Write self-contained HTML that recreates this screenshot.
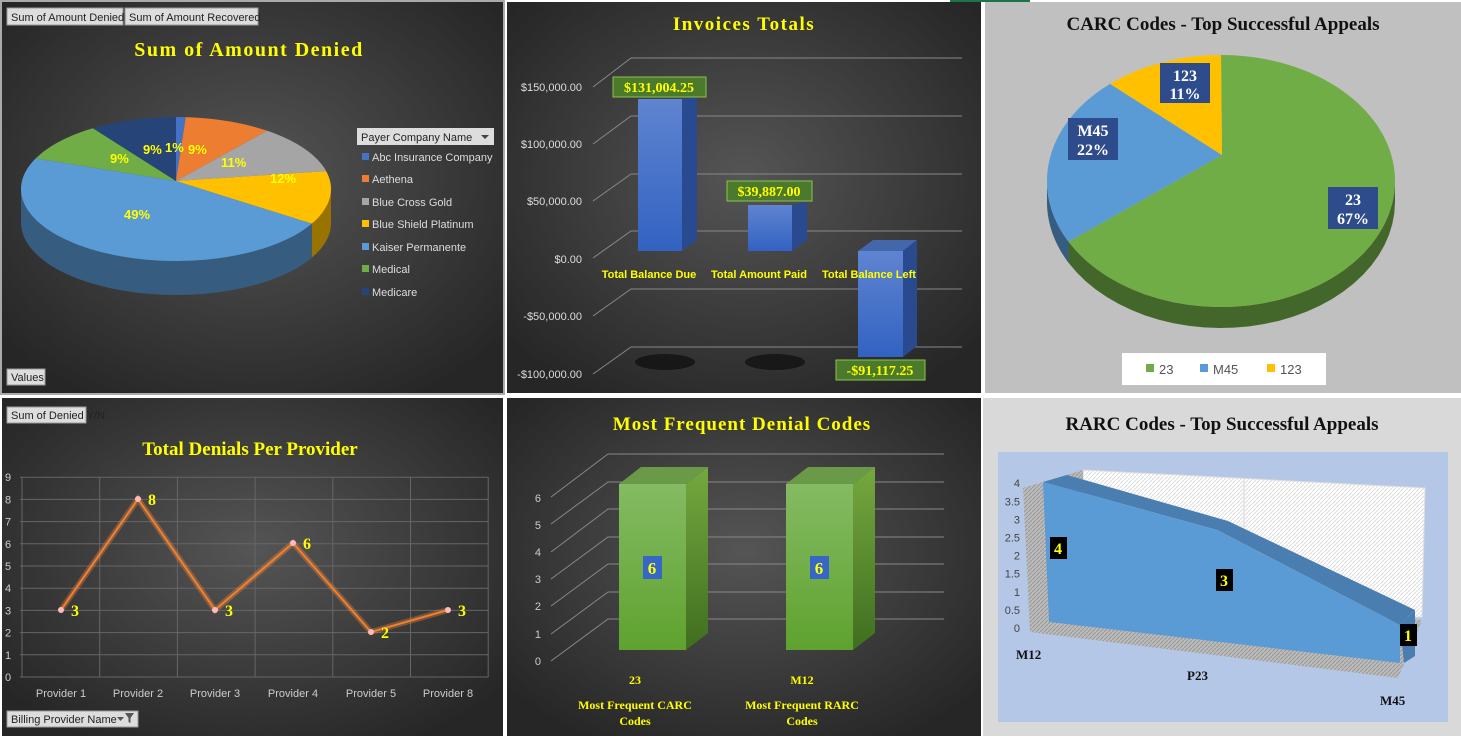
<!DOCTYPE html><html><head><meta charset="utf-8"><style>
body{margin:0;width:1461px;height:738px;overflow:hidden;background:#fff;font-family:"Liberation Sans",sans-serif}
.t{font-family:"Liberation Serif",serif;font-weight:bold;fill:#ffff00}
</style></head><body>
<svg id="s" width="1461" height="738" viewBox="0 0 1461 738" xmlns="http://www.w3.org/2000/svg" font-family="Liberation Sans, sans-serif">
<defs>
<radialGradient id="dk" cx="50%" cy="45%" r="65%"><stop offset="0" stop-color="#555"/><stop offset="1" stop-color="#262626"/></radialGradient>
<linearGradient id="bb" x1="0" y1="0" x2="0" y2="1"><stop offset="0" stop-color="#5f84d0"/><stop offset="1" stop-color="#3262c2"/></linearGradient>
<linearGradient id="gb" x1="0" y1="0" x2="0" y2="1"><stop offset="0" stop-color="#84bb63"/><stop offset="1" stop-color="#5fa22e"/></linearGradient>
<linearGradient id="lb" x1="0" y1="0" x2="0" y2="1"><stop offset="0" stop-color="#76a83f"/><stop offset="1" stop-color="#3f6e1f"/></linearGradient>
<pattern id="h" width="4" height="4" patternUnits="userSpaceOnUse"><rect width="4" height="4" fill="#fff"/><path d="M0 4L4 0" stroke="#ddd" stroke-width="1"/></pattern>
<pattern id="hg" width="4" height="4" patternUnits="userSpaceOnUse"><rect width="4" height="4" fill="#bbb"/><path d="M0 4L4 0" stroke="#999" stroke-width="1"/></pattern>
</defs>
<rect x="0" y="0" width="505" height="395" fill="#aaa"/>
<rect x="2" y="2" width="501" height="391" fill="url(#dk)"/>
<rect x="507" y="2" width="474" height="391" fill="url(#dk)"/>
<rect x="985" y="2" width="476" height="391" fill="#c0c0c0"/>
<rect x="2" y="398" width="501" height="338" fill="url(#dk)"/>
<rect x="507" y="398" width="474" height="338" fill="url(#dk)"/>
<rect x="983" y="398" width="478" height="338" fill="#d9d9d9"/>
<rect x="950" y="0" width="80" height="2" fill="#217346"/>

<!-- top-left -->
<rect x="7" y="8" width="116" height="17" fill="#ddd" stroke="#999"/><text x="11" y="21" font-size="11" fill="#222">Sum of Amount Denied</text>
<rect x="125" y="8" width="133" height="17" fill="#ddd" stroke="#999"/><text x="129" y="21" font-size="11" fill="#222">Sum of Amount Recovered</text>
<text class="t" x="249" y="56" font-size="20" text-anchor="middle" letter-spacing="1.5">Sum of Amount Denied</text>
<g id="pie1"></g>
<rect x="357" y="128" width="137" height="17" fill="#ddd"/><text x="361" y="141" font-size="11" fill="#222">Payer Company Name</text><path d="M481 135h8l-4 4z" fill="#444"/>
<g font-size="11" fill="#ddd">
<rect x="362" y="153" width="7" height="7" fill="#4472c4"/><text x="372" y="161">Abc Insurance Company</text>
<rect x="362" y="175" width="7" height="7" fill="#ed7d31"/><text x="372" y="183">Aethena</text>
<rect x="362" y="198" width="7" height="7" fill="#a5a5a5"/><text x="372" y="206">Blue Cross Gold</text>
<rect x="362" y="220" width="7" height="7" fill="#ffc000"/><text x="372" y="228">Blue Shield Platinum</text>
<rect x="362" y="243" width="7" height="7" fill="#5b9bd5"/><text x="372" y="251">Kaiser Permanente</text>
<rect x="362" y="265" width="7" height="7" fill="#70ad47"/><text x="372" y="273">Medical</text>
<rect x="362" y="288" width="7" height="7" fill="#264478"/><text x="372" y="296">Medicare</text>
</g>
<g font-size="13" font-weight="bold" fill="#ffff00">
<text x="143" y="154">9%</text><text x="165" y="152">1%</text><text x="188" y="154">9%</text>
<text x="221" y="167">11%</text><text x="270" y="183">12%</text><text x="110" y="163">9%</text><text x="124" y="219">49%</text>
</g>
<rect x="7" y="369" width="38" height="16" fill="#ddd" stroke="#999"/><text x="11" y="381" font-size="11" fill="#222">Values</text>

<!-- invoices -->
<text class="t" x="744" y="30" font-size="19" text-anchor="middle" letter-spacing="1.5">Invoices Totals</text>
<g stroke="#888" stroke-width="1" fill="none">
<path d="M593 87L631 58H962M593 144L631 116H962M593 201L631 174H962M593 258L631 231H962M593 316L631 289H962M593 374L631 347H962"/>
</g>
<g font-size="11" fill="#ddd" text-anchor="end">
<text x="582" y="91">$150,000.00</text><text x="582" y="148">$100,000.00</text><text x="582" y="205">$50,000.00</text><text x="582" y="263">$0.00</text><text x="582" y="320">-$50,000.00</text><text x="582" y="378">-$100,000.00</text>
</g>
<ellipse cx="665" cy="362" rx="30" ry="8" fill="#111" opacity=".8"/><ellipse cx="775" cy="362" rx="30" ry="8" fill="#111" opacity=".8"/>
<path d="M682 99L697 97V240L682 251Z" fill="#2a4a90"/><rect x="638" y="99" width="44" height="152" fill="url(#bb)"/>
<path d="M792 205L807 202V240L792 251Z" fill="#2a4a90"/><rect x="748" y="205" width="44" height="46" fill="url(#bb)"/>
<path d="M858 251L873 240H917L903 251Z" fill="#4466aa"/><path d="M903 251L917 240V346L903 357Z" fill="#2a4a90"/><rect x="858" y="251" width="45" height="106" fill="url(#bb)"/>
<g font-size="11" font-weight="bold" fill="#ffff00" text-anchor="middle"><text x="649" y="278">Total Balance Due</text><text x="759" y="278">Total Amount Paid</text><text x="869" y="278">Total Balance Left</text></g>
<g><rect x="613" y="77" width="93" height="20" fill="#4c7a2c" stroke="#8bc34a"/><text x="659" y="92" class="t" font-size="14" text-anchor="middle">$131,004.25</text>
<rect x="727" y="181" width="85" height="20" fill="#4c7a2c" stroke="#8bc34a"/><text x="769" y="196" class="t" font-size="14" text-anchor="middle">$39,887.00</text>
<rect x="836" y="360" width="89" height="20" fill="#4c7a2c" stroke="#8bc34a"/><text x="880" y="375" class="t" font-size="14" text-anchor="middle">-$91,117.25</text></g>

<!-- CARC pie -->
<text x="1223" y="30" font-family="Liberation Serif, serif" font-weight="bold" font-size="19" fill="#111" text-anchor="middle">CARC Codes - Top Successful Appeals</text>
<g id="pie2"></g>
<g font-family="Liberation Serif, serif" font-weight="bold" font-size="16" fill="#fff" text-anchor="middle">
<rect x="1160" y="63" width="50" height="40" fill="#2e4c8c"/><text x="1185" y="81">123</text><text x="1185" y="99">11%</text>
<rect x="1068" y="118" width="50" height="42" fill="#2e4c8c"/><text x="1093" y="136">M45</text><text x="1093" y="155">22%</text>
<rect x="1328" y="187" width="50" height="42" fill="#2e4c8c"/><text x="1353" y="205">23</text><text x="1353" y="224">67%</text>
</g>
<rect x="1122" y="353" width="204" height="32" fill="#fff"/>
<g font-size="13" fill="#555"><rect x="1146" y="364" width="8" height="8" fill="#70ad47"/><text x="1159" y="374">23</text><rect x="1200" y="364" width="8" height="8" fill="#5b9bd5"/><text x="1213" y="374">M45</text><rect x="1267" y="364" width="8" height="8" fill="#ffc000"/><text x="1280" y="374">123</text></g>

<!-- line chart -->
<rect x="7" y="407" width="79" height="16" fill="#ddd" stroke="#999"/><text x="11" y="419" font-size="11" fill="#222">Sum of Denied Y/N</text>
<text class="t" x="250" y="455" font-size="19" text-anchor="middle">Total Denials Per Provider</text>
<g stroke="#666" stroke-width="1" id="lg"></g>
<g font-size="11" fill="#ccc" id="ly"></g>
<polyline points="61,610 138,499 215,610 293,543 371,632 448,610" fill="none" stroke="#f5873a" stroke-width="6" opacity=".35"/>
<polyline points="61,610 138,499 215,610 293,543 371,632 448,610" fill="none" stroke="#f08030" stroke-width="2"/>
<g fill="#fbb"><circle cx="61" cy="610" r="3"/><circle cx="138" cy="499" r="3"/><circle cx="215" cy="610" r="3"/><circle cx="293" cy="543" r="3"/><circle cx="371" cy="632" r="3"/><circle cx="448" cy="610" r="3"/></g>
<g font-size="16"><text x="71" y="616" class="t">3</text><text x="148" y="505" class="t">8</text><text x="225" y="616" class="t">3</text><text x="303" y="549" class="t">6</text><text x="381" y="638" class="t">2</text><text x="458" y="616" class="t">3</text></g>
<g font-size="11" fill="#ccc" text-anchor="middle"><text x="61" y="697">Provider 1</text><text x="138" y="697">Provider 2</text><text x="215" y="697">Provider 3</text><text x="293" y="697">Provider 4</text><text x="371" y="697">Provider 5</text><text x="448" y="697">Provider 8</text></g>
<rect x="7" y="711" width="131" height="16" fill="#ddd" stroke="#999"/><text x="11" y="723" font-size="11" fill="#222">Billing Provider Name</text><path d="M117 717h7l-3.5 4z M125 713h9l-3.5 5v5l-2-1v-4z" fill="#555"/>

<!-- most frequent -->
<text class="t" x="742" y="430" font-size="19" text-anchor="middle" letter-spacing="1">Most Frequent Denial Codes</text>
<g stroke="#888" fill="none"><path d="M551 497L608 454H944M551 524L608 482H944M551 552L608 509H944M551 579L608 537H944M551 606L608 564H944M551 634L608 592H944M551 661L608 619H944"/></g>
<g font-size="11" fill="#ccc" text-anchor="end"><text x="541" y="502">6</text><text x="541" y="529">5</text><text x="541" y="556">4</text><text x="541" y="583">3</text><text x="541" y="610">2</text><text x="541" y="638">1</text><text x="541" y="665">0</text></g>
<path d="M619 484L641 467H708L686 484Z" fill="#6a9a48"/><path d="M686 484L708 467V633L686 650Z" fill="url(#lb)"/><rect x="619" y="484" width="67" height="166" fill="url(#gb)"/>
<path d="M786 484L808 467H875L853 484Z" fill="#6a9a48"/><path d="M853 484L875 467V633L853 650Z" fill="url(#lb)"/><rect x="786" y="484" width="67" height="166" fill="url(#gb)"/>
<rect x="643" y="556" width="19" height="23" fill="#3566c8"/><text x="652" y="574" class="t" font-size="17" text-anchor="middle">6</text>
<rect x="810" y="556" width="19" height="23" fill="#3566c8"/><text x="819" y="574" class="t" font-size="17" text-anchor="middle">6</text>
<g font-size="12" text-anchor="middle"><text x="635" y="684" class="t">23</text><text x="802" y="684" class="t">M12</text>
<text x="635" y="709" class="t">Most Frequent CARC</text><text x="635" y="725" class="t">Codes</text><text x="802" y="709" class="t">Most Frequent RARC</text><text x="802" y="725" class="t">Codes</text></g>

<!-- RARC -->
<text x="1222" y="430" font-family="Liberation Serif, serif" font-weight="bold" font-size="19" fill="#111" text-anchor="middle">RARC Codes - Top Successful Appeals</text>
<rect x="998" y="452" width="450" height="270" fill="#b4c7e7"/>
<path d="M1083 470L1425 488L1422 617L1085 618Z" fill="url(#h)" stroke="#ddd"/>
<g stroke="#ddd" fill="none"><path d="M1244 479V630"/></g>
<path d="M1023 488L1083 470V618L1030 632Z" fill="url(#hg)"/>
<path d="M1030 632L1085 618L1422 620L1398 678Z" fill="url(#hg)"/>
<path d="M1043 482L1067 475L1228 521L1415 610L1400 625L1217 530Z" fill="#4a7eb0"/>
<path d="M1400 625L1415 610V656L1404 663Z" fill="#4a7eb0"/>
<path d="M1043 482L1217 530L1400 625V663L1049 622Z" fill="#5b9bd5"/>
<g font-size="11" fill="#444" text-anchor="end" id="ry"></g>
<rect x="1050" y="537" width="17" height="22" fill="#000"/><text x="1058" y="554" class="t" font-size="16" text-anchor="middle">4</text>
<rect x="1216" y="569" width="17" height="22" fill="#000"/><text x="1224" y="586" class="t" font-size="16" text-anchor="middle">3</text>
<rect x="1400" y="624" width="17" height="22" fill="#000"/><text x="1408" y="641" class="t" font-size="16" text-anchor="middle">1</text>
<g font-family="Liberation Serif, serif" font-weight="bold" font-size="13" fill="#111"><text x="1016" y="659">M12</text><text x="1187" y="680">P23</text><text x="1380" y="705">M45</text></g>
</svg>
<script>
var NS="http://www.w3.org/2000/svg";
function el(p,t,a){var e=document.createElementNS(NS,t);for(var k in a)e.setAttribute(k,a[k]);p.appendChild(e);return e;}
function shade(c,f){var n=parseInt(c.slice(1),16),r=(n>>16)*f,g=(n>>8&255)*f,b=(n&255)*f;return "rgb("+(r|0)+","+(g|0)+","+(b|0)+")";}
function pie(id,cx,cy,rx,ry,d,ccx,ccy,data){
 var g=document.getElementById(id),a=0,sl=[];
 data.forEach(function(s){sl.push([a,a+s[0]*Math.PI*2,s[1]]);a+=s[0]*Math.PI*2;});
 function P(t,dy){return [cx+rx*Math.sin(t),cy-ry*Math.cos(t)+(dy||0)];}
 sl.forEach(function(s){
  var a0=Math.max(s[0],Math.PI/2),a1=Math.min(s[1],Math.PI*1.5);
  if(a1<=a0)return;
  var pts=[],n=30;for(var i=0;i<=n;i++)pts.push(P(a0+(a1-a0)*i/n));
  for(var i=n;i>=0;i--)pts.push(P(a0+(a1-a0)*i/n,d));
  el(g,"polygon",{points:pts.map(function(p){return p.join(",")}).join(" "),fill:shade(s[2],0.6)});
 });
 sl.forEach(function(s){
  var pts=[[ccx,ccy]],n=Math.max(4,Math.ceil((s[1]-s[0])*30));
  for(var i=0;i<=n;i++)pts.push(P(s[0]+(s[1]-s[0])*i/n));
  el(g,"polygon",{points:pts.map(function(p){return p.join(",")}).join(" "),fill:s[2]});
 });
}
pie("pie1",176,189,155,72,34,176,181,[[.01,"#4472c4"],[.09,"#ed7d31"],[.11,"#a5a5a5"],[.12,"#ffc000"],[.49,"#5b9bd5"],[.09,"#70ad47"],[.09,"#264478"]]);
pie("pie2",1221,181,174,126,21,1222,155,[[.67,"#70ad47"],[.22,"#5b9bd5"],[.11,"#ffc000"]]);
var lg=document.getElementById("lg"),ly=document.getElementById("ly");
for(var i=0;i<=9;i++){var y=677-i*22.2;el(lg,"line",{x1:20,x2:488,y1:y,y2:y});var t=el(ly,"text",{x:5,y:y+4});t.textContent=i;}
for(var i=0;i<=6;i++){var x=22+i*77.7;el(lg,"line",{x1:x,x2:x,y1:477,y2:677});}
var ry=document.getElementById("ry");
for(var i=0;i<=8;i++){var y=632-i*18.4+i*0.3;var t=el(ry,"text",{x:1020,y:y});t.textContent=(i/2).toString();}
</script>
</body></html>
